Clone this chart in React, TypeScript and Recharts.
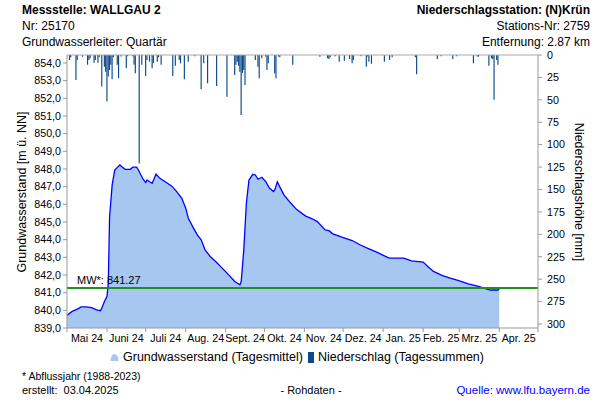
import React from "react";
import {
  ComposedChart,
  Area,
  Bar,
  XAxis,
  YAxis,
  ReferenceLine,
} from "recharts";

// Tage seit 01.05.2024
const monthTicks = [0, 31, 61, 92, 123, 153, 184, 214, 245, 276, 304, 335, 365];
const monthLabels = [
  "Mai 24", "Juni 24", "Juli 24", "Aug. 24", "Sept. 24", "Okt. 24",
  "Nov. 24", "Dez. 24", "Jan. 25", "Feb. 25", "Mrz. 25", "Apr. 25",
];
const levelTicks = [839, 840, 841, 842, 843, 844, 845, 846, 847, 848, 849, 850, 851, 852, 853, 854];
const rainTicks = [0, 25, 50, 75, 100, 125, 150, 175, 200, 225, 250, 275, 300];

// Grundwasserstand (Tagesmittel)
const gwDay = [
  0, 4, 8, 11, 15, 19, 23, 26, 27, 29, 31, 32, 33, 35, 37, 41, 43, 45, 49, 51,
  54, 55, 59, 61, 62, 64, 66, 69, 72, 77, 81, 85, 89, 92, 94, 98, 101, 104, 107, 111,
  116, 121, 126, 130, 134, 135, 137, 139, 141, 144, 146, 148, 151, 154, 157, 160, 161, 163, 165, 168,
  173, 178, 185, 190, 194, 200, 203, 206, 213, 221, 227, 234, 240, 248, 250, 261, 267, 276, 280, 284,
  291, 297, 303, 311, 319, 323, 328, 334, 335,
];
const gwLevel = [
  839.72, 839.94, 840.07, 840.19, 840.19, 840.15, 840.03, 839.98, 840.13, 840.5,
  840.79, 841.54, 845.3, 847.1, 847.94, 848.23, 848.1, 847.98, 847.98, 848.1,
  848.1, 847.98, 847.42, 847.23, 847.38, 847.28, 847.19, 847.7, 847.47, 847.23,
  847.04, 846.72, 846.34, 845.78, 845.21, 844.65, 844.27, 843.99, 843.42, 843.05,
  842.71, 842.33, 841.95, 841.63, 841.45, 841.63, 843.42, 846.06, 847.38, 847.7,
  847.66, 847.42, 847.53, 847.28, 846.91, 846.72, 846.81, 847.28, 846.97, 846.55,
  846.1, 845.7, 845.33, 845.18, 845.02, 844.55, 844.51, 844.33, 844.14, 843.95,
  843.71, 843.48, 843.29, 843.01, 842.95, 842.95, 842.8, 842.73, 842.45, 842.2,
  841.97, 841.82, 841.69, 841.5, 841.35, 841.26, 841.15, 841.15, 841.22,
];

// Niederschlag (Tagessummen) in mm
const rainDay = [
  2, 3, 7, 8, 12, 16, 17, 18, 21, 22, 24, 25, 27, 29, 30, 31, 32, 33, 34, 35,
  36, 39, 40, 42, 46, 47, 51, 52, 53, 56, 58, 61, 62, 64, 66, 67, 70, 71, 73, 82,
  84, 87, 88, 91, 94, 99, 104, 106, 109, 116, 124, 130, 131, 132, 133, 134, 135, 136, 137, 138,
  146, 148, 149, 151, 154, 155, 156, 161, 162, 164, 165, 175, 196, 202, 203, 204, 208, 211, 215, 219,
  221, 222, 228, 232, 233, 234, 236, 246, 250, 252, 270, 271, 287, 290, 299, 302, 315, 318, 319, 327,
  329, 330, 331, 333, 334,
];
const rainMm = [
  5.6, 2.6, 28, 5.6, 2, 11, 5.6, 3.7, 8.6, 5.6, 8.6, 2.6, 35, 13, 18.6, 52, 24, 16.7, 11, 27,
  2.6, 11, 26, 1.8, 14.9, 1.5, 1.5, 11, 20.4, 121, 11, 23.4, 5.6, 7.4, 14.9, 9.3, 7.4, 2.6, 11, 23.4,
  12, 5.6, 9.3, 27, 7.4, 1.5, 38, 9.3, 31.6, 34.6, 46.5, 22.3, 11, 7.4, 12, 18.6, 67, 20, 16.7, 33.5,
  5.6, 13, 26, 3.7, 1.8, 16.7, 9.3, 20.4, 26, 1.8, 2.6, 11, 2, 3.7, 4.5, 2.6, 1.5, 7.4, 6.3, 4.5,
  9.3, 5.6, 1.5, 13, 1.8, 7.4, 9.7, 7.4, 5.6, 2.6, 2.6, 21.6, 4.5, 1.5, 4.5, 1.5, 9.3, 1.8, 1.8, 12,
  3.7, 4.5, 50, 5.6, 11,
];

const meanLevel = 841.27;

const FONT = '"Liberation Sans", Arial, Helvetica, sans-serif';
const PLOT_LEFT = 67;
const PLOT_RIGHT = 538;
const DAY_SPAN = 365;
const PX_PER_DAY = (PLOT_RIGHT - PLOT_LEFT) / DAY_SPAN;

type Row = { day: number; gw?: number; rain?: number };

const rowMap = new Map<number, Row>();
gwDay.forEach((d, i) => {
  const r = rowMap.get(d) || { day: d };
  r.gw = gwLevel[i];
  rowMap.set(d, r);
});
rainDay.forEach((d, i) => {
  const r = rowMap.get(d) || { day: d };
  r.rain = rainMm[i];
  rowMap.set(d, r);
});
const rows = Array.from(rowMap.values()).sort((a, b) => a.day - b.day);

function MonthTick(props: any) {
  const { x, y, payload } = props;
  const i = monthTicks.indexOf(payload.value);
  if (i < 0 || i >= monthLabels.length) return <g />;
  const shift = ((monthTicks[i + 1] - monthTicks[i]) / 2) * PX_PER_DAY;
  return (
    <text x={x + shift} y={y} dy="0.71em" textAnchor="middle" fontSize={10.7} fill="#000" fontFamily={FONT}>
      {monthLabels[i]}
    </text>
  );
}

const line = (top: number, text: string, bold = false, align: "left" | "right" = "left") => (
  <div
    style={{
      position: "absolute",
      top,
      ...(align === "left" ? { left: 22 } : { right: 10 }),
      fontSize: 12,
      fontWeight: bold ? "bold" : "normal",
      lineHeight: "14px",
      whiteSpace: "pre",
      color: "#000",
    }}
  >
    {text}
  </div>
);

export default function App() {
  return (
    <div
      style={{
        position: "absolute",
        left: 0,
        top: 0,
        width: 600,
        height: 400,
        background: "#fff",
        fontFamily: FONT,
        overflow: "hidden",
      }}
    >
      {line(3, "Messstelle: WALLGAU 2", true)}
      {line(19, "Nr: 25170")}
      {line(35, "Grundwasserleiter: Quartär")}
      {line(3, "Niederschlagsstation: (N)Krün", true, "right")}
      {line(19, "Stations-Nr: 2759", false, "right")}
      {line(35, "Entfernung: 2.87 km", false, "right")}

      <div style={{ position: "absolute", left: 0, top: 0 }}>
        <ComposedChart
          width={600}
          height={400}
          data={rows}
          margin={{ top: 55, right: 22, bottom: 42, left: 7 }}
        >
          <XAxis
            dataKey="day"
            type="number"
            domain={[0, DAY_SPAN]}
            ticks={monthTicks}
            interval={0}
            tick={<MonthTick />}
            tickSize={4}
            tickMargin={2}
            height={30}
            axisLine={{ stroke: "#999" }}
            tickLine={{ stroke: "#999" }}
          />
          <YAxis
            yAxisId="gw"
            orientation="left"
            width={60}
            domain={[839, 854.45]}
            ticks={levelTicks}
            interval={0}
            tickFormatter={(v: number) => v.toFixed(1).replace(".", ",")}
            tick={{ fontSize: 10.7, fill: "#000", fontFamily: FONT }}
            tickSize={4}
            tickMargin={2}
            axisLine={{ stroke: "#999" }}
            tickLine={{ stroke: "#999" }}
          />
          <YAxis
            yAxisId="rain"
            orientation="right"
            width={40}
            reversed
            domain={[0, 304.5]}
            ticks={rainTicks}
            interval={0}
            tick={{ fontSize: 10.7, fill: "#000", fontFamily: FONT, textAnchor: "start" }}
            tickSize={4}
            tickMargin={5}
            axisLine={{ stroke: "#999" }}
            tickLine={{ stroke: "#999" }}
          />
          <Area
            yAxisId="gw"
            dataKey="gw"
            type="linear"
            baseValue="dataMin"
            stroke="#0000ff"
            strokeWidth={1.3}
            fill="#a6c8f0"
            fillOpacity={1}
            connectNulls
            dot={false}
            activeDot={false}
            isAnimationActive={false}
          />
          <ReferenceLine yAxisId="rain" y={0} stroke="#aaa" strokeWidth={1} />
          <Bar
            yAxisId="rain"
            dataKey="rain"
            barSize={1.3}
            fill="#0b4a8a"
            isAnimationActive={false}
          />
          <ReferenceLine
            yAxisId="gw"
            y={meanLevel}
            stroke="#1f8f1f"
            strokeWidth={2}
            label={(p: any) => (
              <text
                x={p.viewBox.x + 10}
                y={p.viewBox.y - 4}
                fontSize={11}
                fill="#000"
                fontFamily={FONT}
              >
                {"MW*: " + meanLevel.toFixed(2)}
              </text>
            )}
          />
        </ComposedChart>
      </div>

      <div
        style={{
          position: "absolute",
          left: 22,
          top: 192,
          transform: "translate(-50%, -50%) rotate(-90deg)",
          fontSize: 12.5,
          whiteSpace: "nowrap",
          color: "#000",
        }}
      >
        Grundwasserstand [m ü. NN]
      </div>
      <div
        style={{
          position: "absolute",
          left: 579,
          top: 192,
          transform: "translate(-50%, -50%) rotate(90deg)",
          fontSize: 12.5,
          whiteSpace: "nowrap",
          color: "#000",
        }}
      >
        Niederschlagshöhe [mm]
      </div>

      <div
        style={{
          position: "absolute",
          left: 110,
          top: 350,
          display: "flex",
          alignItems: "center",
          fontSize: 12.5,
          lineHeight: "15px",
          color: "#000",
          whiteSpace: "nowrap",
        }}
      >
        <svg width={9} height={9} style={{ marginRight: 4 }}>
          <path d="M0.5 8 Q1 1 4.5 1 Q8 1 8.5 8 Z" fill="#a6c8f0" />
        </svg>
        <span>Grundwasserstand (Tagesmittel)</span>
        <svg width={8} height={11} style={{ marginLeft: 4, marginRight: 3 }}>
          <rect x={1} y={0} width={6} height={11} fill="#0b4a8a" />
        </svg>
        <span>Niederschlag (Tagessummen)</span>
      </div>

      <div style={{ position: "absolute", left: 22, top: 370, fontSize: 10.5, color: "#000", whiteSpace: "pre" }}>
        * Abflussjahr (1988-2023)
      </div>
      <div style={{ position: "absolute", left: 22, top: 384, fontSize: 11, color: "#000", whiteSpace: "pre" }}>
        erstellt:  03.04.2025
      </div>
      <div
        style={{
          position: "absolute",
          left: 311,
          top: 384,
          transform: "translateX(-50%)",
          fontSize: 11,
          color: "#000",
          whiteSpace: "pre",
        }}
      >
        - Rohdaten -
      </div>
      <div style={{ position: "absolute", right: 10, top: 384, fontSize: 11.5, color: "#0000ff", whiteSpace: "pre" }}>
        Quelle: www.lfu.bayern.de
      </div>
    </div>
  );
}
